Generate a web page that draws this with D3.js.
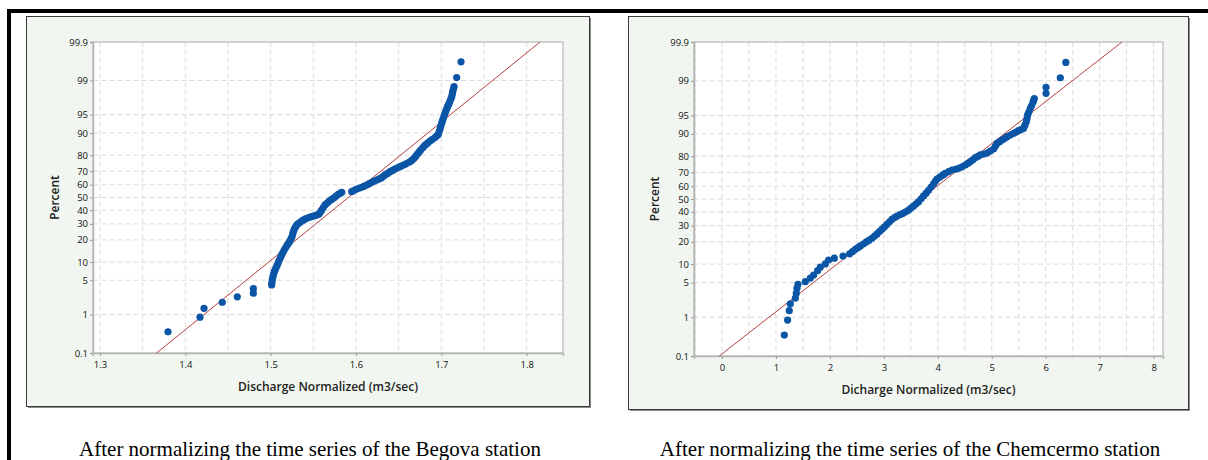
<!DOCTYPE html>
<html>
<head>
<meta charset="utf-8">
<script src="https://cdn.jsdelivr.net/npm/d3@7"></script>
<style>
  body { margin: 0; background: #fff; }
  svg { display: block; }
  .tick text { font-family: 'Open Sans', sans-serif; font-size: 9.5px; fill: #111; }
  .axis-label { font-family: 'Open Sans', sans-serif; font-size: 12px; font-weight: 600; fill: #222; }
  .caption { font-family: 'Liberation Serif', 'Times New Roman', serif; font-size: 21px; fill: #000; }
</style>
</head>
<body>
<svg width="1208" height="460"></svg>
<script>
const svg = d3.select('svg');

// percent ticks on the normal probability axis
const percentTicks = [0.1, 1, 5, 10, 20, 30, 40, 50, 60, 70, 80, 90, 95, 99, 99.9];

// Begova station (discharge, percent)
const begovaTicks = [1.3, 1.4, 1.5, 1.6, 1.7, 1.8];
const begovaX = [
  1.3797, 1.4172, 1.4219, 1.4433, 1.4609, 1.4797, 1.4797,
  1.5012, 1.5019, 1.5031, 1.5051, 1.5078, 1.5101, 1.5129, 1.5160, 1.5195, 1.5227,
  1.5250, 1.5265, 1.5285, 1.5312, 1.5352, 1.5402, 1.5461, 1.5520, 1.5570, 1.5598,
  1.5637, 1.5687, 1.5742, 1.5793, 1.5833,
  1.5950, 1.6000, 1.6067, 1.6126, 1.6184, 1.6243, 1.6301, 1.6340, 1.6399, 1.6457,
  1.6516, 1.6574, 1.6633, 1.6680, 1.6718, 1.6758, 1.6809, 1.6867, 1.6926, 1.6965,
  1.6985, 1.7004, 1.7023, 1.7043, 1.7063, 1.7082, 1.7102, 1.7122, 1.7133, 1.7149,
  1.7180, 1.7231,
  // denser readings along the band
  1.5015, 1.5025, 1.5041, 1.5064, 1.5090, 1.5115, 1.5145, 1.5178, 1.5211, 1.5238,
  1.5258, 1.5275, 1.5298, 1.5332, 1.5377, 1.5431, 1.5490, 1.5545, 1.5584, 1.5617,
  1.5662, 1.5714, 1.5767, 1.5813,
  1.5975, 1.6033, 1.6096, 1.6155, 1.6213, 1.6272, 1.6320, 1.6369, 1.6428, 1.6486,
  1.6545, 1.6603, 1.6656, 1.6699, 1.6738, 1.6783, 1.6838, 1.6896, 1.6945, 1.6975,
  1.6994, 1.7013, 1.7033, 1.7053, 1.7072, 1.7092, 1.7112, 1.7128, 1.7141
];
const begovaPct = [
  0.38, 0.87, 1.38, 1.87, 2.42, 2.85, 3.5,
  4.12, 5.07, 6.2, 7.5, 9.02, 10.7, 12.7, 14.9, 17.3, 19.4,
  21.8, 24.8, 27.4, 29.7, 31.5, 33.3, 34.9, 35.9, 37.4, 40.2,
  44.1, 47.2, 49.8, 52.5, 54.1,
  54.6, 56.5, 58.0, 59.8, 61.9, 63.6, 65.3, 67.3, 69.6, 71.4,
  73.0, 74.5, 76.1, 78.2, 80.5, 82.7, 85.1, 86.9, 88.3, 89.5,
  91.3, 93.0, 94.2, 95.3, 96.1, 96.7, 97.24, 97.74, 98.23, 98.62,
  99.14, 99.65,
  4.58, 5.6, 6.83, 8.23, 9.84, 11.7, 13.8, 16.1, 18.3, 20.6,
  23.3, 26.1, 28.5, 30.6, 32.4, 34.1, 35.4, 36.6, 38.8, 42.1,
  45.6, 48.5, 51.1, 53.3,
  55.5, 57.2, 58.9, 60.8, 62.7, 64.4, 66.3, 68.4, 70.5, 72.2,
  73.7, 75.3, 77.1, 79.3, 81.6, 83.9, 86.0, 87.6, 88.9, 90.4,
  92.2, 93.6, 94.8, 95.7, 96.4, 96.95, 97.5, 98.0, 98.43
];
const begovaMean = 1.591;
const begovaSd = 0.0727;

// Chemcermo station (discharge, percent)
const chemTicks = [0, 1, 2, 3, 4, 5, 6, 7, 8];
const chemX = [
  1.155, 1.216, 1.247, 1.266, 1.359, 1.377, 1.390, 1.409, 1.544, 1.637,
  1.698, 1.772, 1.822, 1.915, 1.976, 2.082, 2.243, 2.365, 2.471, 2.564,
  2.675, 2.780, 2.873, 2.966, 3.058, 3.151, 3.244, 3.355, 3.459, 3.551,
  3.644, 3.737, 3.829, 3.922, 3.985, 4.078, 4.139, 4.263, 4.386, 4.510,
  4.602, 4.695, 4.788, 4.912, 5.034, 5.097, 5.190, 5.283, 5.405, 5.498,
  5.590, 5.640, 5.665, 5.715, 5.765, 5.789, 6.006, 6.006, 6.271, 6.373,
  // denser readings along the band
  2.418, 2.518, 2.620, 2.728, 2.827, 2.920, 3.012, 3.105, 3.198, 3.300,
  3.407, 3.505, 3.598, 3.691, 3.783, 3.876, 3.954, 4.032, 4.109, 4.201,
  4.325, 4.448, 4.556, 4.649, 4.742, 4.850, 4.973, 5.066, 5.144, 5.237,
  5.344, 5.452, 5.544, 5.615, 5.653, 5.690, 5.740, 5.777
];
const chemPct = [
  0.37, 0.86, 1.40, 1.96, 2.55, 3.19, 3.96, 4.67, 5.19, 5.95,
  6.73, 7.93, 8.98, 10.06, 11.5, 12.2, 13.1, 14.0, 16.1, 17.8,
  19.9, 22.0, 24.6, 27.6, 30.9, 34.5, 36.9, 38.9, 41.4, 44.5,
  47.9, 52.4, 56.8, 61.8, 65.3, 67.8, 69.4, 71.6, 72.7, 74.8,
  76.9, 79.2, 80.7, 81.7, 83.7, 86.3, 87.7, 89.0, 90.2, 91.1,
  91.8, 93.6, 95.1, 96.3, 97.2, 97.6, 98.12, 98.60, 99.15, 99.64,
  15.0, 16.9, 18.8, 20.9, 23.3, 26.1, 29.2, 32.7, 35.7, 37.9,
  40.1, 42.9, 46.2, 50.1, 54.6, 59.3, 63.5, 66.5, 68.6, 70.5,
  72.1, 73.7, 75.8, 78.0, 79.9, 81.2, 82.7, 85.0, 87.0, 88.3,
  89.6, 90.6, 91.4, 92.7, 94.3, 95.7, 96.7, 97.4
];
const chemMean = 3.682;
const chemSd = 1.208;

// inverse normal cdf (Acklam)
const probit = p => {
  const a = [-39.69683028665376, 220.9460984245205, -275.9285104469687, 138.3577518672690, -30.66479806614716, 2.506628277459239];
  const b = [-54.47609879822406, 161.5858368580409, -155.6989798598866, 66.80131188771972, -13.28068155288572];
  const c = [-0.007784894002430293, -0.3223964580411365, -2.400758277161838, -2.549732539343734, 4.374664141464968, 2.938163982698783];
  const d = [0.007784695709041462, 0.3224671290700398, 2.445134137142996, 3.754408661907416];
  const pl = 0.02425;
  let q, r;
  if (p < pl) {
    q = Math.sqrt(-2 * Math.log(p));
    return (((((c[0]*q+c[1])*q+c[2])*q+c[3])*q+c[4])*q+c[5]) / ((((d[0]*q+d[1])*q+d[2])*q+d[3])*q+1);
  }
  if (p > 1 - pl) {
    q = Math.sqrt(-2 * Math.log(1 - p));
    return -(((((c[0]*q+c[1])*q+c[2])*q+c[3])*q+c[4])*q+c[5]) / ((((d[0]*q+d[1])*q+d[2])*q+d[3])*q+1);
  }
  q = p - 0.5; r = q * q;
  return (((((a[0]*r+a[1])*r+a[2])*r+a[3])*r+a[4])*r+a[5])*q / (((((b[0]*r+b[1])*r+b[2])*r+b[3])*r+b[4])*r+1);
};

const zMin = probit(0.001);
const zMax = probit(0.999);

const drawPanel = props => {
  const { box, plot, xDomain, xTicks, gridStep, xs, ps, mean, sd, xLabel, percentX } = props;

  // panel frame
  svg.append('rect')
    .attr('x', box.x + 1.5).attr('y', box.y + 1.5)
    .attr('width', box.w).attr('height', box.h)
    .attr('fill', '#8a8a8a');
  svg.append('rect')
    .attr('x', box.x).attr('y', box.y)
    .attr('width', box.w).attr('height', box.h)
    .attr('fill', '#f1f7f0')
    .attr('stroke', '#3a3a3a')
    .attr('stroke-width', 1);

  const xScale = d3.scaleLinear().domain(xDomain).range([plot.x0, plot.x1]);
  const zScale = d3.scaleLinear().domain([zMin, zMax]).range([plot.y1, plot.y0]);
  const yPos = pct => zScale(probit(pct / 100));

  const g = svg.append('g');

  g.append('rect')
    .attr('x', plot.x0).attr('y', plot.y0)
    .attr('width', plot.x1 - plot.x0).attr('height', plot.y1 - plot.y0)
    .attr('fill', '#fff');

  // grid
  const gridX = d3.range(Math.ceil(xDomain[0] / gridStep), Math.floor(xDomain[1] / gridStep) + 1)
    .map(i => i * gridStep);
  g.selectAll('.vgrid').data(gridX).enter().append('line')
    .attr('x1', d => xScale(d)).attr('x2', d => xScale(d))
    .attr('y1', plot.y0).attr('y2', plot.y1)
    .attr('stroke', '#dcdcdc').attr('stroke-dasharray', '5,3');
  g.selectAll('.hgrid').data(percentTicks.slice(1, -1)).enter().append('line')
    .attr('x1', plot.x0).attr('x2', plot.x1)
    .attr('y1', d => yPos(d)).attr('y2', d => yPos(d))
    .attr('stroke', '#dcdcdc').attr('stroke-dasharray', '5,3');

  g.append('rect')
    .attr('x', plot.x0).attr('y', plot.y0)
    .attr('width', plot.x1 - plot.x0).attr('height', plot.y1 - plot.y0)
    .attr('fill', 'none').attr('stroke', '#c4c4c4').attr('stroke-width', 1.5);

  // axes
  const yAxis = d3.axisLeft(zScale)
    .tickValues(percentTicks.map(p => probit(p / 100)))
    .tickFormat((d, i) => percentTicks[i])
    .tickSize(3).tickPadding(2);
  const yAxisG = g.append('g').attr('transform', `translate(${plot.x0},0)`).call(yAxis);
  yAxisG.select('.domain').attr('stroke', '#b4b4b4').attr('stroke-width', 1.5);
  yAxisG.selectAll('.tick line').attr('stroke', '#999');

  const xAxis = d3.axisBottom(xScale).tickValues(xTicks).tickFormat(d3.format('')).tickSize(3).tickPadding(5);
  const xAxisG = g.append('g').attr('transform', `translate(0,${plot.y1})`).call(xAxis);
  xAxisG.select('.domain').attr('stroke', '#b4b4b4').attr('stroke-width', 1.5);
  xAxisG.selectAll('.tick line').attr('stroke', '#999');

  // fitted line
  g.append('line')
    .attr('x1', xScale(mean + sd * zMin)).attr('y1', zScale(zMin))
    .attr('x2', xScale(mean + sd * zMax)).attr('y2', zScale(zMax))
    .attr('stroke', '#b5403f').attr('stroke-width', 1);

  // points
  g.selectAll('circle').data(xs).enter().append('circle')
    .attr('cx', d => xScale(d))
    .attr('cy', (d, i) => yPos(ps[i]))
    .attr('r', 3.6)
    .attr('fill', '#0a55a5');

  // labels
  g.append('text').attr('class', 'axis-label')
    .attr('x', (plot.x0 + plot.x1) / 2).attr('y', plot.y1 + 38)
    .attr('text-anchor', 'middle')
    .text(xLabel);
  g.append('text').attr('class', 'axis-label')
    .attr('transform', `translate(${percentX},${(plot.y0 + plot.y1) / 2}) rotate(-90)`)
    .attr('text-anchor', 'middle')
    .text('Percent');
};

// outer black frame
svg.append('rect').attr('x', 7).attr('y', 9).attr('width', 1201).attr('height', 4).attr('fill', '#000');
svg.append('rect').attr('x', 7).attr('y', 9).attr('width', 4).attr('height', 451).attr('fill', '#000');

drawPanel({
  box: { x: 26.5, y: 16.5, w: 563, h: 390 },
  plot: { x0: 93, x1: 563, y0: 42, y1: 353 },
  xDomain: [1.2918, 1.8426],
  xTicks: begovaTicks,
  gridStep: 0.05,
  xs: begovaX, ps: begovaPct,
  mean: begovaMean, sd: begovaSd,
  xLabel: 'Discharge Normalized (m3/sec)',
  percentX: 59
});

drawPanel({
  box: { x: 628.5, y: 16.5, w: 560, h: 393 },
  plot: { x0: 694, x1: 1163, y0: 42, y1: 356 },
  xDomain: [-0.519, 8.1743],
  xTicks: chemTicks,
  gridStep: 0.5,
  xs: chemX, ps: chemPct,
  mean: chemMean, sd: chemSd,
  xLabel: 'Dicharge Normalized (m3/sec)',
  percentX: 659
});

svg.append('text').attr('class', 'caption')
  .attr('x', 310).attr('y', 456).attr('text-anchor', 'middle')
  .text('After normalizing the time series of the Begova station');
svg.append('text').attr('class', 'caption')
  .attr('x', 910).attr('y', 456).attr('text-anchor', 'middle')
  .text('After normalizing the time series of the Chemcermo station');
</script>
</body>
</html>
